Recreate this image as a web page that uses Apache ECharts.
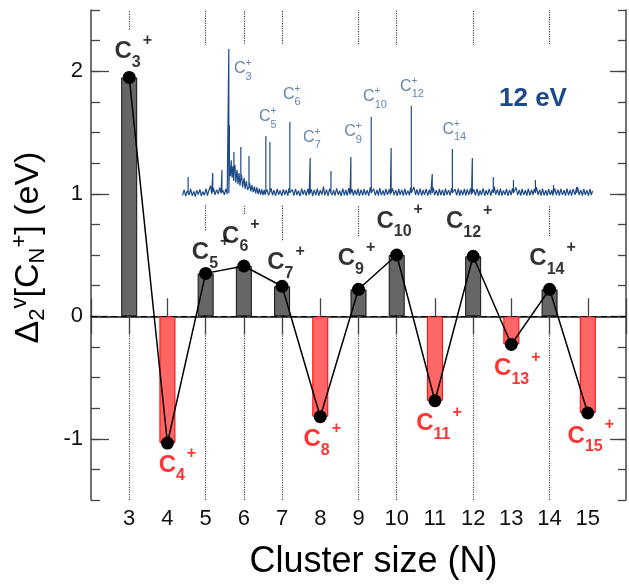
<!DOCTYPE html>
<html><head><meta charset="utf-8">
<script src="https://cdn.jsdelivr.net/npm/echarts@6/dist/echarts.min.js"></script>
<style>html,body{margin:0;padding:0;background:#fff}#c{width:629px;height:585px}</style>
</head><body><div id="c"></div>
<script>
// ---- main chart data ----
const clusterSizes = [3, 4, 5, 6, 7, 8, 9, 10, 11, 12, 13, 14, 15];
const deltaValues  = [1.95, -1.035, 0.35, 0.41, 0.245, -0.82, 0.22, 0.50, -0.69, 0.49, -0.23, 0.22, -0.79];
const xTickLabels  = [3, 4, 5, 6, 7, 8, 9, 10, 11, 12, 13, 14, 15];
const yTickLabels  = [-1, 0, 1, 2];

// ---- inset mass spectrum (12 eV), x in cluster-size units, y in arbitrary intensity ----
const peakN    = [1.0, 2.21, 2.66, 3.0, 3.03, 3.25, 3.59, 3.99, 4.82, 5.02, 6.0, 7.0, 8.02, 9.0, 10.0, 10.98, 11.97, 13.0, 13.99, 14.97, 16.0, 16.99, 18.07, 18.96, 20.1];
const peakH    = [17.5, 20, 21.9, 97.5, 50, 33.1, 36.3, 30.6, 43.1, 39.4, 51.9, 29.4, 21.3, 30, 55, 35.6, 61.9, 19.4, 35, 29.4, 17.5, 15.6, 15.6, 12.5, 11.3];
const peakFoot = [7.5, 8, 8, 7.5, 25, 21, 17, 11, 8, 8, 7.5, 7.5, 7.5, 7.5, 7.5, 7.5, 7.5, 7.5, 7.5, 7.5, 7.5, 7.5, 7.5, 7.5, 7.5];
const baseline = [[0.73,6],[0.8,9.5],[0.88,5.5],[0.95,8.8],[1.05,6.2],[1.12,10],[1.2,5.8],[1.28,8.5],[1.35,5.2],[1.42,9.2],[1.5,6.5],[1.58,9.8],[1.65,5.6],[1.72,8.4],[1.8,6.1],[1.88,10.2],[1.95,5.9],[2.02,9.1],[2.1,12],[2.16,7],[2.25,10.5],[2.32,6.4],[2.4,9.6],[2.48,6.8],[2.55,10.8],[2.62,7.2],[2.7,9.4],[2.78,6.3],[2.85,10.1],[2.92,6.9],
[3.05,26],[3.08,18],[3.12,28],[3.16,17],[3.2,24],[3.24,15],[3.3,25],[3.34,14],[3.4,22],[3.45,13],[3.5,20],[3.55,12],[3.62,19],[3.68,11],[3.75,17],[3.8,10],[3.86,15],[3.92,9.5],[4.02,14],[4.08,8.5],[4.14,12.5],[4.2,8],[4.26,11.5],[4.32,7.2],[4.38,11],[4.44,6.8],[4.5,10.2],[4.56,6.5],[4.62,9.8],[4.68,6.2],[4.74,9.5],[4.78,6.4],
[4.88,9.6],[4.95,6.1],[5.08,10.4],[5.15,6.0],[5.22,9.3],[5.3,5.8],[5.38,10.0],[5.45,6.3],[5.52,9.1],[5.6,5.7],[5.68,9.8],[5.75,6.4],[5.82,9.4],[5.9,5.9],[5.96,10.6],[6.06,6.6],[6.12,9.7],[6.2,5.8],[6.28,10.1],[6.35,6.2],[6.42,9.0],[6.5,5.6],[6.58,10.3],[6.65,6.5],[6.72,9.5],[6.8,5.9],[6.88,10.0],[6.95,6.3],[7.06,9.8],[7.12,5.7],[7.2,9.4],[7.28,6.1],[7.35,10.2],[7.42,5.8],[7.5,9.2],[7.58,6.4],[7.65,11.5],[7.72,6.0],[7.8,9.6],[7.88,5.7],[7.95,10.1],
[8.08,6.2],[8.15,9.3],[8.22,5.9],[8.3,10.4],[8.38,6.3],[8.45,9.0],[8.52,5.6],[8.6,10.2],[8.68,6.1],[8.75,9.5],[8.82,5.8],[8.9,10.6],[8.96,6.4],[9.06,9.9],[9.12,5.9],[9.2,9.4],[9.28,6.2],[9.35,10.3],[9.42,5.7],[9.5,9.6],[9.58,6.0],[9.65,10.0],[9.72,6.3],[9.8,9.2],[9.88,5.8],[9.95,11.0],[10.06,6.5],[10.12,10.2],[10.2,6.0],[10.28,9.4],[10.35,5.8],[10.42,10.5],[10.5,6.2],[10.58,9.1],[10.65,5.9],[10.72,10.0],[10.8,6.4],[10.88,9.7],[10.94,6.6],
[11.05,10.4],[11.12,6.1],[11.2,9.3],[11.28,5.8],[11.35,10.1],[11.42,6.3],[11.5,9.5],[11.58,5.9],[11.65,10.3],[11.72,6.2],[11.8,9.0],[11.88,6.0],[11.93,10.8],[12.03,7.0],[12.1,11.2],[12.18,6.4],[12.25,9.8],[12.32,6.0],[12.4,10.2],[12.48,5.8],[12.55,9.4],[12.62,6.3],[12.7,10.0],[12.78,5.9],[12.85,9.6],[12.92,6.4],[13.05,10.8],[13.12,6.2],[13.2,9.2],[13.28,5.8],[13.35,10.1],[13.42,6.1],[13.5,9.5],[13.58,5.7],[13.65,10.3],[13.72,6.4],[13.8,9.3],[13.88,6.0],[13.95,10.5],
[14.05,6.6],[14.12,9.9],[14.2,6.0],[14.28,10.2],[14.35,5.8],[14.42,9.4],[14.5,6.2],[14.58,10.0],[14.65,5.9],[14.72,9.7],[14.8,6.3],[14.88,10.4],[14.93,6.5],[15.04,9.8],[15.12,6.1],[15.2,10.1],[15.28,5.7],[15.35,9.3],[15.42,6.2],[15.5,10.4],[15.58,5.9],[15.65,9.2],[15.72,6.3],[15.8,10.0],[15.88,5.8],[15.95,9.6],[16.05,11.5],[16.12,6.4],[16.2,9.8],[16.28,6.0],[16.35,10.3],[16.42,5.9],[16.5,9.1],[16.58,6.3],[16.65,10.0],[16.72,5.8],[16.8,9.5],[16.88,6.1],[16.94,10.4],
[17.05,7.8],[17.12,11.0],[17.2,6.2],[17.28,9.4],[17.35,5.8],[17.42,10.1],[17.5,6.3],[17.58,9.2],[17.65,5.9],[17.72,10.3],[17.8,6.1],[17.88,9.6],[17.95,6.4],[18.02,10.0],[18.12,11.2],[18.2,6.3],[18.28,9.5],[18.35,5.9],[18.42,10.2],[18.5,6.1],[18.58,9.3],[18.65,5.8],[18.72,10.0],[18.8,6.4],[18.88,9.4],[18.92,6.0],[19.02,10.4],[19.1,6.2],[19.18,9.6],[19.25,5.8],[19.32,10.1],[19.4,6.3],[19.48,9.2],[19.55,5.9],[19.62,10.2],[19.7,6.1],[19.78,9.5],[19.85,5.8],[19.92,10.0],
[20.02,6.4],[20.15,11.0],[20.22,6.2],[20.3,9.4],[20.38,5.9],[20.45,10.1],[20.52,6.3],[20.6,9.2],[20.68,5.8],[20.75,10.0],[20.82,6.2],[20.88,8.8]];
const insetLabelSizes = [3, 5, 6, 7, 9, 10, 12, 14];
const insetLabelN     = [3.25, 4.48, 5.66, 6.65, 8.67, 9.6, 11.42, 13.5];
const insetLabelY     = [85, 55, 68.8, 41.9, 45.6, 67.5, 73.8, 46.9];

// ---- label layout (style only) ----
const labelShiftX = [4, 10, 5, -3, 4, 2, -2, 3, 4, -4, 6, 3, 3];
const labelShiftY = [-27, 23, -22, -31, -25, 24, -32, -35, 24, -36, 25, -32, 24];
const LABEL_HALF = 19;   // half of label line height (px)

const FONT = 'Liberation Sans, Arial, Helvetica, sans-serif';
const BLUE = '#1c4a87';
const INSET_TXT = '#3d649c';

const spectrum = [];
baseline.forEach(p => spectrum.push(p));
peakN.forEach((n, i) => { spectrum.push([n, peakFoot[i]], [n, peakH[i]], [n, peakFoot[i]]); });
spectrum.sort((a, b) => a[0] - b[0]);

const pairs = clusterSizes.map((n, i) => [n, deltaValues[i]]);
const Y_MIN = -1.5, Y_MAX = 2.5;

const chart = echarts.init(document.getElementById('c'));
const axisLineStyle = { color: '#444', width: 1.5 };
const tickStyle = { color: '#444', width: 1.3 };

chart.setOption({
  animation: false,
  textStyle: { fontFamily: FONT },
  title: {
    text: '12 eV', left: 494, top: 81,
    textStyle: { fontSize: 26, fontWeight: 'bold', color: BLUE, fontFamily: FONT }
  },
  grid: [
    { left: 91, right: 0, top: 10, bottom: 80, containLabel: false },
    { left: 180, right: 34, top: 45, bottom: 380, show: true, backgroundColor: '#fff', borderWidth: 0, z: 2 }
  ],
  xAxis: [
    {
      type: 'value', gridIndex: 0, min: 2, max: 16, interval: 1, position: 'bottom',
      axisLine: { lineStyle: axisLineStyle },
      axisTick: { inside: true, length: 18, lineStyle: tickStyle },
      axisLabel: { fontSize: 22, color: '#111', margin: 8, fontFamily: FONT,
        formatter: v => (xTickLabels.indexOf(v) >= 0 ? String(v) : '') },
      splitLine: { show: false },
      name: 'Cluster size (N)', nameLocation: 'middle', nameGap: 44,
      nameTextStyle: { fontSize: 36, color: '#000', fontFamily: FONT, padding: [0, 0, 0, 30] }
    },
    {
      type: 'value', gridIndex: 0, min: 2, max: 16, interval: 1, position: 'top',
      axisLine: { lineStyle: axisLineStyle },
      axisTick: { inside: true, length: 18, lineStyle: tickStyle },
      axisLabel: { show: false }, splitLine: { show: false }
    },
    { type: 'value', gridIndex: 1, min: 0.6, max: 21, show: false }
  ],
  yAxis: [
    {
      type: 'value', gridIndex: 0, min: Y_MIN, max: Y_MAX, position: 'left',
      axisLine: { show: true, lineStyle: axisLineStyle },
      axisTick: { show: true, inside: true, length: 18, lineStyle: tickStyle, customValues: yTickLabels },
      axisLabel: { fontSize: 22, color: '#111', margin: 8, fontFamily: FONT, customValues: yTickLabels },
      splitLine: { show: false },
      name: '{n|Δ}{s|2}{p|v}{n|[C}{s|N}{p|+}{n|] (eV)}', nameLocation: 'middle', nameRotate: 90, nameGap: 42,
      nameTextStyle: {
        padding: [0, 0, 0, 15],
        rich: {
          n: { fontSize: 34, lineHeight: 40, color: '#000', fontFamily: FONT, verticalAlign: 'middle' },
          s: { fontSize: 22, lineHeight: 22, color: '#000', fontFamily: FONT, verticalAlign: 'bottom' },
          p: { fontSize: 22, lineHeight: 22, color: '#000', fontFamily: FONT, verticalAlign: 'top' }
        }
      }
    },
    {
      type: 'value', gridIndex: 0, min: Y_MIN, max: Y_MAX, interval: 0.25, position: 'left',
      axisLine: { show: false }, axisLabel: { show: false }, splitLine: { show: false },
      axisTick: { show: true, inside: true, length: 9, lineStyle: tickStyle }
    },
    {
      type: 'value', gridIndex: 0, min: Y_MIN, max: Y_MAX, position: 'right',
      axisLine: { show: true, lineStyle: axisLineStyle }, axisLabel: { show: false }, splitLine: { show: false },
      axisTick: { show: true, inside: true, length: 16, lineStyle: tickStyle, customValues: yTickLabels }
    },
    {
      type: 'value', gridIndex: 0, min: Y_MIN, max: Y_MAX, interval: 0.25, position: 'right',
      axisLine: { show: false }, axisLabel: { show: false }, splitLine: { show: false },
      axisTick: { show: true, inside: true, length: 8, lineStyle: tickStyle }
    },
    { type: 'value', gridIndex: 1, min: 0, max: 100, show: false }
  ],
  series: [
    {
      id: 'guides', type: 'scatter', xAxisIndex: 0, yAxisIndex: 0, data: [], z: 1, silent: true,
      markLine: {
        z: 1, silent: true, symbol: ['none', 'none'], label: { show: false },
        lineStyle: { type: 'dotted', color: '#444', width: 1.2 },
        data: []
      }
    },
    {
      type: 'line', xAxisIndex: 2, yAxisIndex: 4, data: spectrum, z: 3,
      showSymbol: false, symbol: 'none', silent: true,
      lineStyle: { color: BLUE, width: 1.2 }
    },
    {
      type: 'scatter', xAxisIndex: 2, yAxisIndex: 4, z: 3, symbolSize: 0, silent: true,
      data: insetLabelN.map((n, i) => [n, insetLabelY[i]]),
      label: {
        show: true, position: 'right', distance: 0,
        formatter: p => '{c|C}{s|' + insetLabelSizes[p.dataIndex] + '}',
        rich: {
          c: { fontSize: 16, lineHeight: 26, color: INSET_TXT, verticalAlign: 'middle', fontFamily: FONT },
          s: { fontSize: 11, lineHeight: 11, color: INSET_TXT, verticalAlign: 'bottom', fontFamily: FONT }
        }
      }
    },
    {
      type: 'scatter', xAxisIndex: 2, yAxisIndex: 4, z: 3, symbolSize: 0, silent: true,
      data: insetLabelN.map((n, i) => [n, insetLabelY[i]]),
      label: {
        show: true, position: 'right', distance: 0, offset: [11.5, -6],
        formatter: '+', fontSize: 10, color: INSET_TXT, fontFamily: FONT
      }
    },
    {
      type: 'bar', xAxisIndex: 0, yAxisIndex: 0, z: 4, barWidth: 16,
      data: pairs.map(p => ({
        value: p,
        itemStyle: p[1] > 0
          ? { color: '#666666', borderColor: '#111', borderWidth: 1 }
          : { color: '#ff6666', borderColor: '#ff0000', borderWidth: 1 }
      })),
      markLine: {
        silent: true, symbol: ['none', 'none'], label: { show: false },
        lineStyle: { type: [6, 4], color: '#000', width: 1.2 },
        data: [{ yAxis: 0 }]
      }
    },
    {
      type: 'scatter', xAxisIndex: 0, yAxisIndex: 0, z: 5, symbolSize: 13, silent: true,
      itemStyle: { color: 'rgba(0,0,0,0)' },
      data: pairs.map((p, i) => {
        const up = p[1] > 0;
        return {
          value: p,
          label: {
            show: true, position: up ? 'top' : 'bottom', distance: 0,
            offset: [labelShiftX[i], labelShiftY[i] + (up ? 26.5 : -26.5)],
            color: up ? '#000' : '#ff0000'
          }
        };
      }),
      label: {
        formatter: p => '{c|C}{s|' + p.value[0] + '}{p|+}',
        rich: {
          c: { fontSize: 24, fontWeight: 'bold', lineHeight: 2 * LABEL_HALF, verticalAlign: 'middle', fontFamily: FONT },
          s: { fontSize: 16, fontWeight: 'bold', lineHeight: 16, verticalAlign: 'bottom', fontFamily: FONT },
          p: { fontSize: 16, fontWeight: 'bold', lineHeight: 16, verticalAlign: 'top', fontFamily: FONT, padding: [0, 0, 0, 2] }
        }
      }
    },
    {
      type: 'line', xAxisIndex: 0, yAxisIndex: 0, z: 6, data: pairs,
      symbol: 'circle', symbolSize: 13, showSymbol: true,
      lineStyle: { color: '#000', width: 1.5 },
      itemStyle: { color: '#000' }
    }
  ]
});

// dotted guides at positive sizes: from the bottom to the point, and from above the label to the top
const guideSegs = [];
pairs.forEach((p, i) => {
  if (p[1] <= 0) return;
  const px = chart.convertToPixel({ xAxisIndex: 0, yAxisIndex: 0 }, p);
  const labelTop = chart.convertFromPixel({ xAxisIndex: 0, yAxisIndex: 0 }, [px[0], px[1] + labelShiftY[i] - LABEL_HALF - 2])[1];
  guideSegs.push([{ coord: [p[0], Y_MIN] }, { coord: [p[0], p[1]] }]);
  guideSegs.push([{ coord: [p[0], labelTop] }, { coord: [p[0], Y_MAX] }]);
});
chart.setOption({ series: [{ id: 'guides', markLine: { data: guideSegs } }] });
</script>
</body></html>
